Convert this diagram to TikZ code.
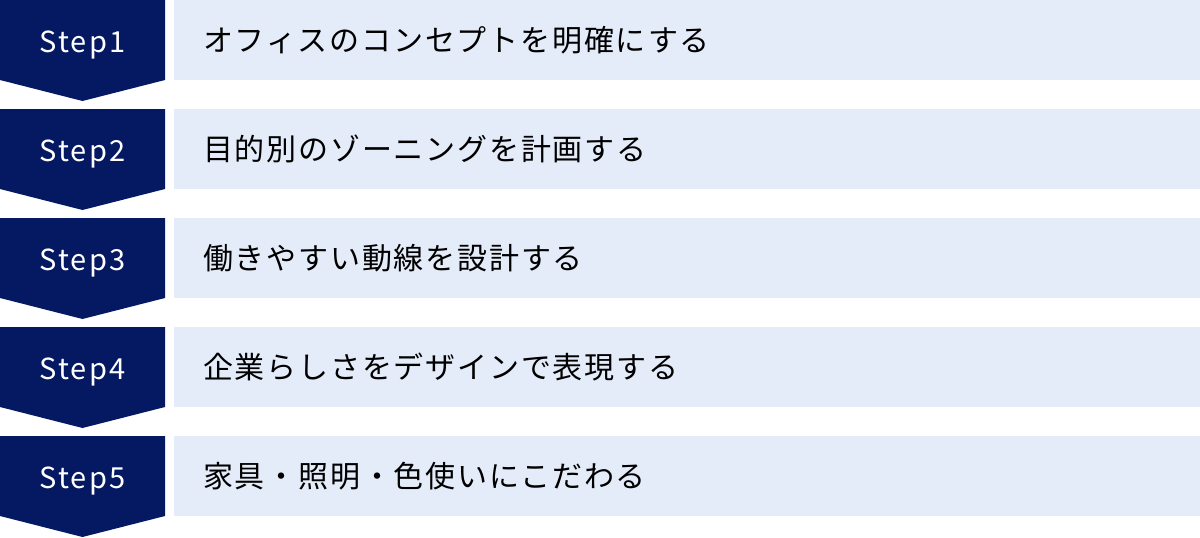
\documentclass[tikz,border=0pt]{standalone}
\usepackage{fontspec}
\usepackage{tikz}
\usetikzlibrary{positioning}
\newfontfamily\jpfont[LetterSpace=6]{Noto Sans CJK JP}
\newfontfamily\stepfont[LetterSpace=8]{Noto Sans CJK JP}
\definecolor{StepNavy}{RGB}{5,24,98}
\definecolor{StepBlue}{RGB}{229,236,249}

\begin{document}
\begin{tikzpicture}[x=1pt, y=-1pt,
    steptag/.style={text=white, anchor=base, inner sep=0pt, font=\stepfont\fontsize{29}{29}\selectfont},
    stepdesc/.style={anchor=west, inner sep=0pt, font=\jpfont\fontsize{30}{30}\selectfont}]
    \useasboundingbox (0,0) rectangle (1200,538);
    \foreach \i/\txt in {1/オフィスのコンセプトを明確にする,
                         2/目的別のゾーニングを計画する,
                         3/働きやすい動線を設計する,
                         4/企業らしさをデザインで表現する,
                         5/家具・照明・色使いにこだわる}
    {
      \pgfmathsetmacro\rowy{(\i-1)*109}
      % chevron and bar
      \fill[StepNavy] (0,\rowy) -- (165,\rowy) -- (165,\rowy+80) -- (82.5,\rowy+101) -- (0,\rowy+80) -- cycle;
      \fill[StepBlue] (174,\rowy) rectangle (1200,\rowy+80);
      \node[steptag] (tag\i) at (82.5,\rowy+52) {Step\i};
      \node[stepdesc] (desc\i) at (203,\rowy+40) {\txt};
    }
\end{tikzpicture}
\end{document}
